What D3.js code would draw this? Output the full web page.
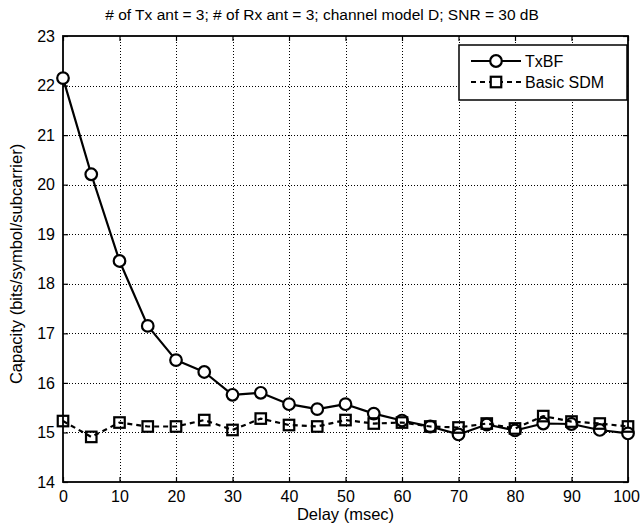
<!DOCTYPE html>
<html>
<head>
<meta charset="utf-8">
<script src="https://cdn.jsdelivr.net/npm/d3@7"></script>
<style>
  html, body { margin: 0; padding: 0; background: #fff; }
  svg { display: block; }
</style>
</head>
<body>
<svg id="chart" width="640" height="529"></svg>
<script>
// ─── Data ────────────────────────────────────────────────────────────
const delays = [0, 5, 10, 15, 20, 25, 30, 35, 40, 45, 50, 55, 60, 65, 70, 75, 80, 85, 90, 95, 100];
const txbf = [22.15, 20.21, 18.46, 17.15, 16.46, 16.22, 15.76, 15.80, 15.57, 15.47, 15.57,
  15.38, 15.24, 15.12, 14.96, 15.16, 15.04, 15.18, 15.17, 15.05, 14.98];
const basicSdm = [15.23, 14.91, 15.20, 15.12, 15.12, 15.25, 15.05, 15.28, 15.15, 15.12, 15.25,
  15.18, 15.20, 15.12, 15.10, 15.18, 15.08, 15.33, 15.22, 15.18, 15.12];
const xTicks = [0, 10, 20, 30, 40, 50, 60, 70, 80, 90, 100];
const yTicks = [14, 15, 16, 17, 18, 19, 20, 21, 22, 23];
const seriesNames = ["TxBF", "Basic SDM"];

const titleText = "# of Tx ant = 3; # of Rx ant = 3; channel model D; SNR = 30 dB";
const xLabel = "Delay (msec)";
const yLabel = "Capacity (bits/symbol/subcarrier)";

// ─── Layout ──────────────────────────────────────────────────────────
const width = 640, height = 529;
const margin = { top: 36, right: 12, bottom: 47, left: 63 };
const plotWidth = width - margin.left - margin.right;
const plotHeight = height - margin.top - margin.bottom;
const font = "'Liberation Sans', Arial, sans-serif";

const svg = d3.select("#chart");

const xScale = d3.scaleLinear().domain([0, 100]).range([0, plotWidth]);
const yScale = d3.scaleLinear().domain([14, 23]).range([plotHeight, 0]);

const g = svg.append("g").attr("transform", `translate(${margin.left},${margin.top})`);

// ─── Grid ────────────────────────────────────────────────────────────
g.append("g").selectAll("line")
  .data(xTicks.slice(1, -1))
  .join("line")
  .attr("x1", (d) => Math.round(xScale(d)) + 0.5)
  .attr("x2", (d) => Math.round(xScale(d)) + 0.5)
  .attr("y1", 0).attr("y2", plotHeight)
  .attr("stroke", "#000").attr("stroke-width", 1).attr("stroke-dasharray", "1 2");

g.append("g").selectAll("line")
  .data(yTicks.slice(1, -1))
  .join("line")
  .attr("y1", (d) => Math.round(yScale(d)) + 0.5)
  .attr("y2", (d) => Math.round(yScale(d)) + 0.5)
  .attr("x1", 0).attr("x2", plotWidth)
  .attr("stroke", "#000").attr("stroke-width", 1).attr("stroke-dasharray", "1 2");

// ─── Axes (ticks inward on all four sides) ───────────────────────────
const tickLen = 5;
const axisBottom = g.append("g").attr("transform", `translate(0,${plotHeight})`)
  .call(d3.axisBottom(xScale).tickValues(xTicks).tickSizeInner(-tickLen).tickSizeOuter(0).tickPadding(9));
const axisTop = g.append("g")
  .call(d3.axisTop(xScale).tickValues(xTicks).tickSizeInner(-tickLen).tickSizeOuter(0).tickFormat(""));
const axisLeft = g.append("g")
  .call(d3.axisLeft(yScale).tickValues(yTicks).tickSizeInner(-tickLen).tickSizeOuter(0).tickPadding(8));
const axisRight = g.append("g").attr("transform", `translate(${plotWidth},0)`)
  .call(d3.axisRight(yScale).tickValues(yTicks).tickSizeInner(-tickLen).tickSizeOuter(0).tickFormat(""));

[axisBottom, axisTop, axisLeft, axisRight].forEach((ax) => {
  ax.select(".domain").remove();
  ax.selectAll(".tick line").attr("stroke", "#000").attr("stroke-width", 1.2);
  ax.selectAll(".tick text")
    .attr("font-family", font)
    .attr("font-size", 16)
    .attr("fill", "#000");
});

// Last x label sits at the page edge; nudge it in so it is not clipped
axisBottom.selectAll(".tick text")
  .filter((d) => d === 100)
  .attr("dx", -2);

// Box
g.append("rect")
  .attr("x", 0).attr("y", 0)
  .attr("width", plotWidth).attr("height", plotHeight)
  .attr("fill", "none").attr("stroke", "#000").attr("stroke-width", 1.8);

// ─── Series ──────────────────────────────────────────────────────────
const lineGen = d3.line()
  .x((d) => xScale(d[0]))
  .y((d) => yScale(d[1]));

const txbfData = delays.map((d, i) => [d, txbf[i]]);
const sdmData = delays.map((d, i) => [d, basicSdm[i]]);

g.append("path")
  .datum(txbfData)
  .attr("fill", "none").attr("stroke", "#000").attr("stroke-width", 2.2)
  .attr("stroke-linejoin", "round")
  .attr("d", lineGen);

g.append("g").selectAll("circle")
  .data(txbfData)
  .join("circle")
  .attr("cx", (d) => xScale(d[0]))
  .attr("cy", (d) => yScale(d[1]))
  .attr("r", 5.8)
  .attr("fill", "#fff").attr("stroke", "#000").attr("stroke-width", 2.2);

g.append("path")
  .datum(sdmData)
  .attr("fill", "none").attr("stroke", "#000").attr("stroke-width", 2.2)
  .attr("stroke-dasharray", "5 4")
  .attr("d", lineGen);

const sq = 10.5;
g.append("g").selectAll("rect")
  .data(sdmData)
  .join("rect")
  .attr("x", (d) => xScale(d[0]) - sq / 2)
  .attr("y", (d) => yScale(d[1]) - sq / 2)
  .attr("width", sq).attr("height", sq)
  .attr("fill", "none").attr("stroke", "#000").attr("stroke-width", 2.2);

// ─── Legend ──────────────────────────────────────────────────────────
const legend = svg.append("g").attr("transform", "translate(459,45)");
legend.append("rect")
  .attr("x", 0).attr("y", 0).attr("width", 168).attr("height", 55)
  .attr("fill", "#fff").attr("stroke", "#000").attr("stroke-width", 1.5);

seriesNames.forEach((name, i) => {
  const y = 16 + i * 21;
  const item = legend.append("g").attr("transform", `translate(0,${y})`);
  item.append("line")
    .attr("x1", 12).attr("x2", 62).attr("y1", 0).attr("y2", 0)
    .attr("stroke", "#000").attr("stroke-width", 2.2)
    .attr("stroke-dasharray", i === 0 ? null : "5 4");
  if (i === 0) {
    item.append("circle").attr("cx", 37).attr("cy", 0).attr("r", 5.8)
      .attr("fill", "#fff").attr("stroke", "#000").attr("stroke-width", 2.2);
  } else {
    item.append("rect").attr("x", 37 - sq / 2).attr("y", -sq / 2).attr("width", sq).attr("height", sq)
      .attr("fill", "#fff").attr("stroke", "#000").attr("stroke-width", 2.2);
  }
  item.append("text")
    .attr("x", 66).attr("dy", "0.35em")
    .attr("font-family", font).attr("font-size", 16)
    .text(name);
});

// ─── Title and axis labels ───────────────────────────────────────────
svg.append("text")
  .attr("x", 322).attr("y", 20)
  .attr("text-anchor", "middle")
  .attr("font-family", font).attr("font-size", 15.5)
  .text(titleText);

svg.append("text")
  .attr("x", margin.left + plotWidth / 2).attr("y", 520)
  .attr("text-anchor", "middle")
  .attr("font-family", font).attr("font-size", 16.5)
  .text(xLabel);

svg.append("text")
  .attr("transform", `translate(22,${margin.top + plotHeight / 2 + 5}) rotate(-90)`)
  .attr("text-anchor", "middle")
  .attr("font-family", font).attr("font-size", 16.5)
  .text(yLabel);
</script>
</body>
</html>
